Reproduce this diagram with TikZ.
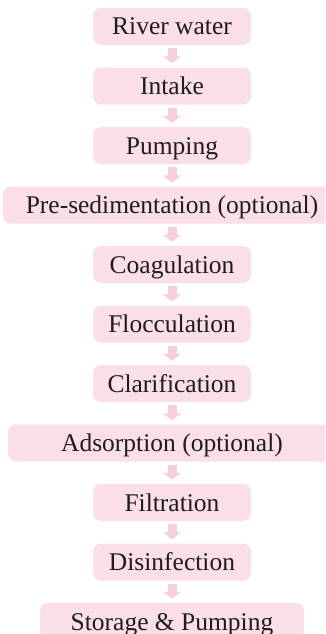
\documentclass[tikz,border=0pt]{standalone}
\usepackage{fontspec}
\setmainfont{Liberation Serif}
\newfontfamily\boxfont{Liberation Serif}
\usetikzlibrary{arrows.meta}
\definecolor{boxpink}{RGB}{250,222,232}
\definecolor{arrowpink}{RGB}{247,206,221}
\definecolor{txt}{RGB}{30,28,29}
\tikzset{
  stepbox/.style={fill=boxpink, rounded corners=8pt, minimum height=37pt, inner sep=0pt,
    text height=17pt, text depth=0pt, text=txt, font=\boxfont\fontsize{25.5pt}{28pt}\selectfont},
  flow/.style={draw=arrowpink, line width=9pt, shorten <=3pt, shorten >=4pt,
    -{Triangle[width=18pt,length=7pt]}}
}
\begin{document}
\begin{tikzpicture}[x=1pt,y=-1pt]
\useasboundingbox (0,0) rectangle (325,634);
\clip (0,0) rectangle (325,634);
\node[stepbox, minimum width=158pt] (n1) at (172,26.5) {River water};
\node[stepbox, minimum width=158pt] (n2) at (172,86) {Intake};
\node[stepbox, minimum width=158pt] (n3) at (172,145.5) {Pumping};
\node[stepbox, minimum width=338pt] (n4) at (172,205) {Pre-sedimentation (optional)};
\node[stepbox, minimum width=158pt] (n5) at (172,264.5) {Coagulation};
\node[stepbox, minimum width=158pt] (n6) at (172,324) {Flocculation};
\node[stepbox, minimum width=158pt] (n7) at (172,383.5) {Clarification};
\node[stepbox, minimum width=328pt] (n8) at (172,443) {Adsorption (optional)};
\node[stepbox, minimum width=158pt] (n9) at (172,502.5) {Filtration};
\node[stepbox, minimum width=158pt] (n10) at (172,562) {Disinfection};
\node[stepbox, minimum width=264pt] (n11) at (172,621.5) {Storage \& Pumping};
\foreach \a/\b in {n1/n2,n2/n3,n3/n4,n4/n5,n5/n6,n6/n7,n7/n8,n8/n9,n9/n10,n10/n11}
  \draw[flow] (\a.south) -- (\b.north);
\end{tikzpicture}
\end{document}
